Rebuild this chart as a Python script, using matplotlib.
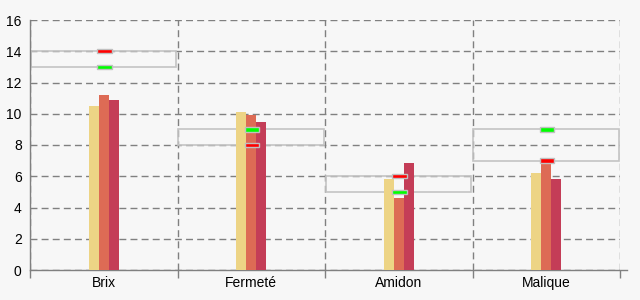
import numpy as np
import matplotlib.pyplot as plt
from matplotlib.patches import Rectangle

categories = ['Brix', 'Fermeté', 'Amidon', 'Malique']
serie_1 = [10.5, 10.1, 5.8, 6.2]
serie_2 = [11.2, 9.9, 4.6, 6.9]
serie_3 = [10.9, 9.5, 6.85, 5.8]
borne_rouge = [14, 8, 6, 7]
borne_verte = [13, 9, 5, 9]

couleurs = ['#EDD485', '#DD6B55', '#C43D57']
grille = '#808080'

plt.rcParams['font.family'] = ['Liberation Sans', 'DejaVu Sans']

fig = plt.figure(figsize=(6.4, 3.0), dpi=100, facecolor='#f7f7f7')
ax = fig.add_axes([30 / 640, 30 / 300, 590 / 640, 250 / 300])
ax.set_facecolor('#f7f7f7')

x = np.arange(len(categories))
w = 0.068

# zones cibles (entre les deux bornes)
for i in x:
    lo = min(borne_rouge[i], borne_verte[i])
    hi = max(borne_rouge[i], borne_verte[i])
    ax.add_patch(Rectangle((i - 0.495, lo), 0.985, hi - lo, fill=False,
                           edgecolor='#c4c4c4', linewidth=1.2, zorder=2))

# barres
for k, serie in enumerate([serie_1, serie_2, serie_3]):
    ax.bar(x + (k - 1) * w, serie, width=w, color=couleurs[k], zorder=3)

# repères des bornes
h = 0.28
ax.bar(x + 0.005, h, bottom=np.array(borne_rouge) - h / 2, width=0.1,
       color='#ff0000', edgecolor='#c0c0c0', linewidth=1, zorder=4)
ax.bar(x + 0.005, h, bottom=np.array(borne_verte) - h / 2, width=0.1,
       color='#00ff00', edgecolor='#c0c0c0', linewidth=1, zorder=4)

ax.set_xlim(-0.5, 3.5)
ax.set_ylim(0, 16)
ax.set_yticks(np.arange(0, 17, 2))

ax.set_xticks(np.arange(-0.5, 4, 1))
ax.set_xticklabels([])
ax.set_xticks(x, minor=True)
ax.set_xticklabels(categories, minor=True, fontsize=10)
ax.tick_params(axis='x', which='major', direction='out', length=6,
               color=grille, width=1)
ax.tick_params(axis='x', which='minor', length=0, pad=4)
ax.tick_params(axis='y', length=0, pad=6, labelsize=10)

ax.grid(True, which='major', color=grille, linestyle=(0, (5, 3)),
        linewidth=1, zorder=1)
ax.set_axisbelow(True)

for s in ['top', 'right']:
    ax.spines[s].set_visible(False)
for s in ['left', 'bottom']:
    ax.spines[s].set_color(grille)
    ax.spines[s].set_linewidth(1)
ax.spines['bottom'].set_bounds(-0.5, 3.55)

plt.savefig('out.png', dpi=100, facecolor=fig.get_facecolor())
